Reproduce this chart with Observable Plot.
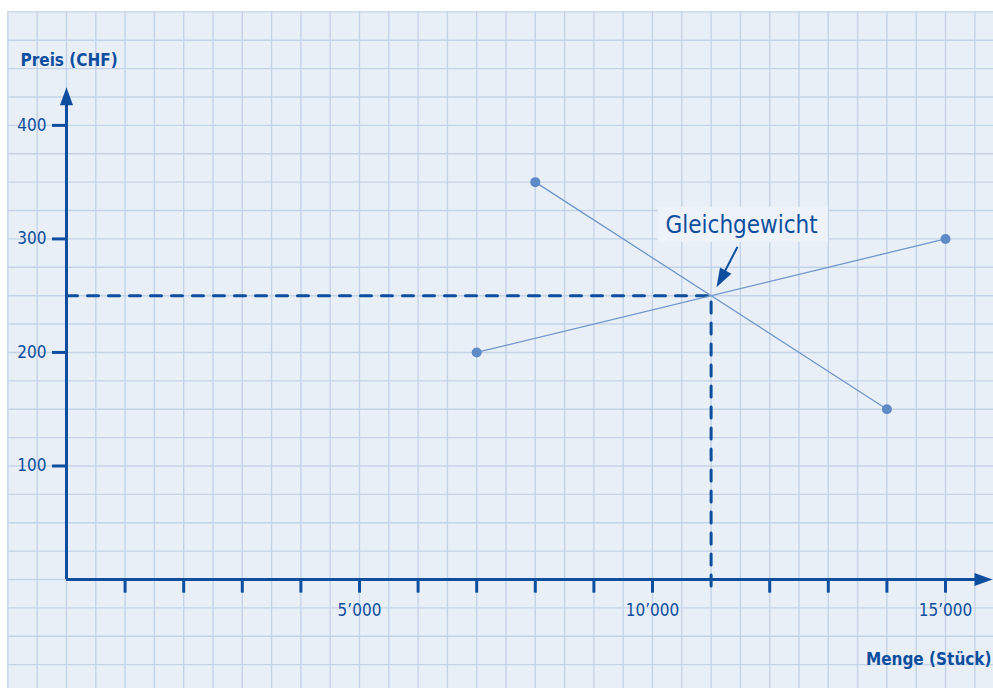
<!DOCTYPE html>
<html><head><meta charset="utf-8">
<script src="https://cdn.jsdelivr.net/npm/d3@7"></script>
<script src="https://cdn.jsdelivr.net/npm/@observablehq/plot@0.6"></script>
<style>body{margin:0;background:#fff;overflow:hidden}</style>
</head><body><div id="chart"></div>
<script>
// ---- data ----
const supply = [{menge: 7000, preis: 200}, {menge: 15000, preis: 300}];
const demand = [{menge: 8000, preis: 350}, {menge: 14000, preis: 150}];
const equilibrium = [{menge: 11000, preis: 250}];
const xTickValues = [1000,2000,3000,4000,5000,6000,7000,8000,9000,10000,12000,13000,14000,15000];
const xLabelValues = [5000, 10000, 15000];
const yTickValues = [100, 200, 300, 400];
const xTitle = "Menge (Stück)";
const yTitle = "Preis (CHF)";
const annotationText = "Gleichgewicht";
// annotation anchor positions (data units)
const annotationLabel = [{menge: 10222, preis: 312}];
const annotationBox = [{x1: 10100, x2: 13000, y1: 297, y2: 328}];
const annotationArrow = [{x1: 11450, y1: 293, x2: 11150, y2: 263, tipX: 11092, tipY: 257.5}];

// ---- layout ----
const X_MIN = -1126, X_MAX = 15819, Y_MIN = -96, Y_MAX = 510;
const GRID_X0 = -1000, GRID_Y1 = 500;
const gridX = d3.range(-1000, 15800, 500);
const gridY = d3.range(-75, 501, 25);

const blue = "#0d4e9f";
const dataBlue = "#6f96ca";
const dotBlue = "#5e8bc5";
const font = "'Liberation Sans Narrow', 'DejaVu Sans Condensed', sans-serif";
const fmt = d3.formatLocale({thousands: "\u2019", grouping: [3], decimal: "."}).format(",");

const headShape = {
  draw(context, l, r) {
    context.moveTo(0, -l);
    context.lineTo(-r, 0);
    context.lineTo(r, 0);
    context.closePath();
  }
};

const chart = Plot.plot({
  width: 993,
  height: 688,
  margin: 0,
  x: {domain: [X_MIN, X_MAX], axis: null},
  y: {domain: [Y_MIN, Y_MAX], axis: null},
  style: {fontFamily: font, background: "#fff", overflow: "visible"},
  marks: [
    // paper background
    Plot.rect([{}], {x1: GRID_X0, x2: X_MAX, y1: Y_MIN, y2: GRID_Y1, fill: "#e9eff7"}),
    // grid
    Plot.ruleX(gridX, {x: d => d, y1: Y_MIN, y2: GRID_Y1, stroke: "#c4d4e8", strokeWidth: 1.4}),
    Plot.ruleY(gridY, {y: d => d, x1: GRID_X0, x2: X_MAX, stroke: "#c4d4e8", strokeWidth: 1.4}),
    // axes
    Plot.ruleX([0], {x: d => d, y1: 0, y2: 418, stroke: blue, strokeWidth: 3}),
    Plot.ruleY([0], {y: d => d, x1: 0, x2: 15520, stroke: blue, strokeWidth: 3}),
    Plot.vector([{x: 0, y: 433.5}], {x: "x", y: "y", length: 18, r: 6.5, rotate: 0, anchor: "end", shape: headShape, fill: blue, stroke: "none"}),
    Plot.vector([{x: 15802, y: 0}], {x: "x", y: "y", length: 18, r: 6.5, rotate: 90, anchor: "end", shape: headShape, fill: blue, stroke: "none"}),
    // ticks
    Plot.ruleX(xTickValues, {x: d => d, y1: 0, y2: -12, stroke: blue, strokeWidth: 3}),
    Plot.ruleY(yTickValues, {y: d => d, x1: -239, x2: 0, stroke: blue, strokeWidth: 3}),
    // tick labels
    Plot.text(xLabelValues, {x: d => d, y: 0, text: d => fmt(d), dy: 31, fill: blue, fontSize: 17, textAnchor: "middle", lineAnchor: "middle"}),
    Plot.text(yTickValues, {x: 0, y: d => d, text: d => String(d), dx: -20, fill: blue, fontSize: 17, textAnchor: "end", lineAnchor: "middle"}),
    // titles
    Plot.text([yTitle], {frameAnchor: "top-left", text: d => d, dx: 20, dy: 60, fill: blue, fontSize: 17, fontWeight: "bold", textAnchor: "start", lineAnchor: "middle"}),
    Plot.text([xTitle], {frameAnchor: "bottom-right", text: d => d, dx: -2, dy: -29, fill: blue, fontSize: 17, fontWeight: "bold", textAnchor: "end", lineAnchor: "middle"}),
    // equilibrium dashed guides
    Plot.line([{m: 0, p: equilibrium[0].preis}, {m: equilibrium[0].menge, p: equilibrium[0].preis}, {m: equilibrium[0].menge, p: -12}],
      {x: "m", y: "p", stroke: blue, strokeWidth: 3, strokeDasharray: "11,10"}),
    // supply & demand lines
    Plot.line(supply, {x: "menge", y: "preis", stroke: dataBlue, strokeWidth: 1.3}),
    Plot.line(demand, {x: "menge", y: "preis", stroke: dataBlue, strokeWidth: 1.3}),
    Plot.dot(supply, {x: "menge", y: "preis", r: 5, fill: dotBlue}),
    Plot.dot(demand, {x: "menge", y: "preis", r: 5, fill: dotBlue}),
    // annotation
    Plot.rect(annotationBox, {x1: "x1", x2: "x2", y1: "y1", y2: "y2", fill: "#eef3f9"}),
    Plot.text(annotationLabel, {x: "menge", y: "preis", text: () => annotationText, fill: blue, fontSize: 24, textAnchor: "start", lineAnchor: "middle"}),
    Plot.link(annotationArrow, {x1: "x1", y1: "y1", x2: "x2", y2: "y2", stroke: blue, strokeWidth: 2}),
    Plot.vector(annotationArrow, {x: "tipX", y: "tipY", length: 19, r: 6.5, rotate: 209, anchor: "end", shape: headShape, fill: blue, stroke: "none"})
  ]
});
document.getElementById("chart").appendChild(chart);
</script>
</body></html>
